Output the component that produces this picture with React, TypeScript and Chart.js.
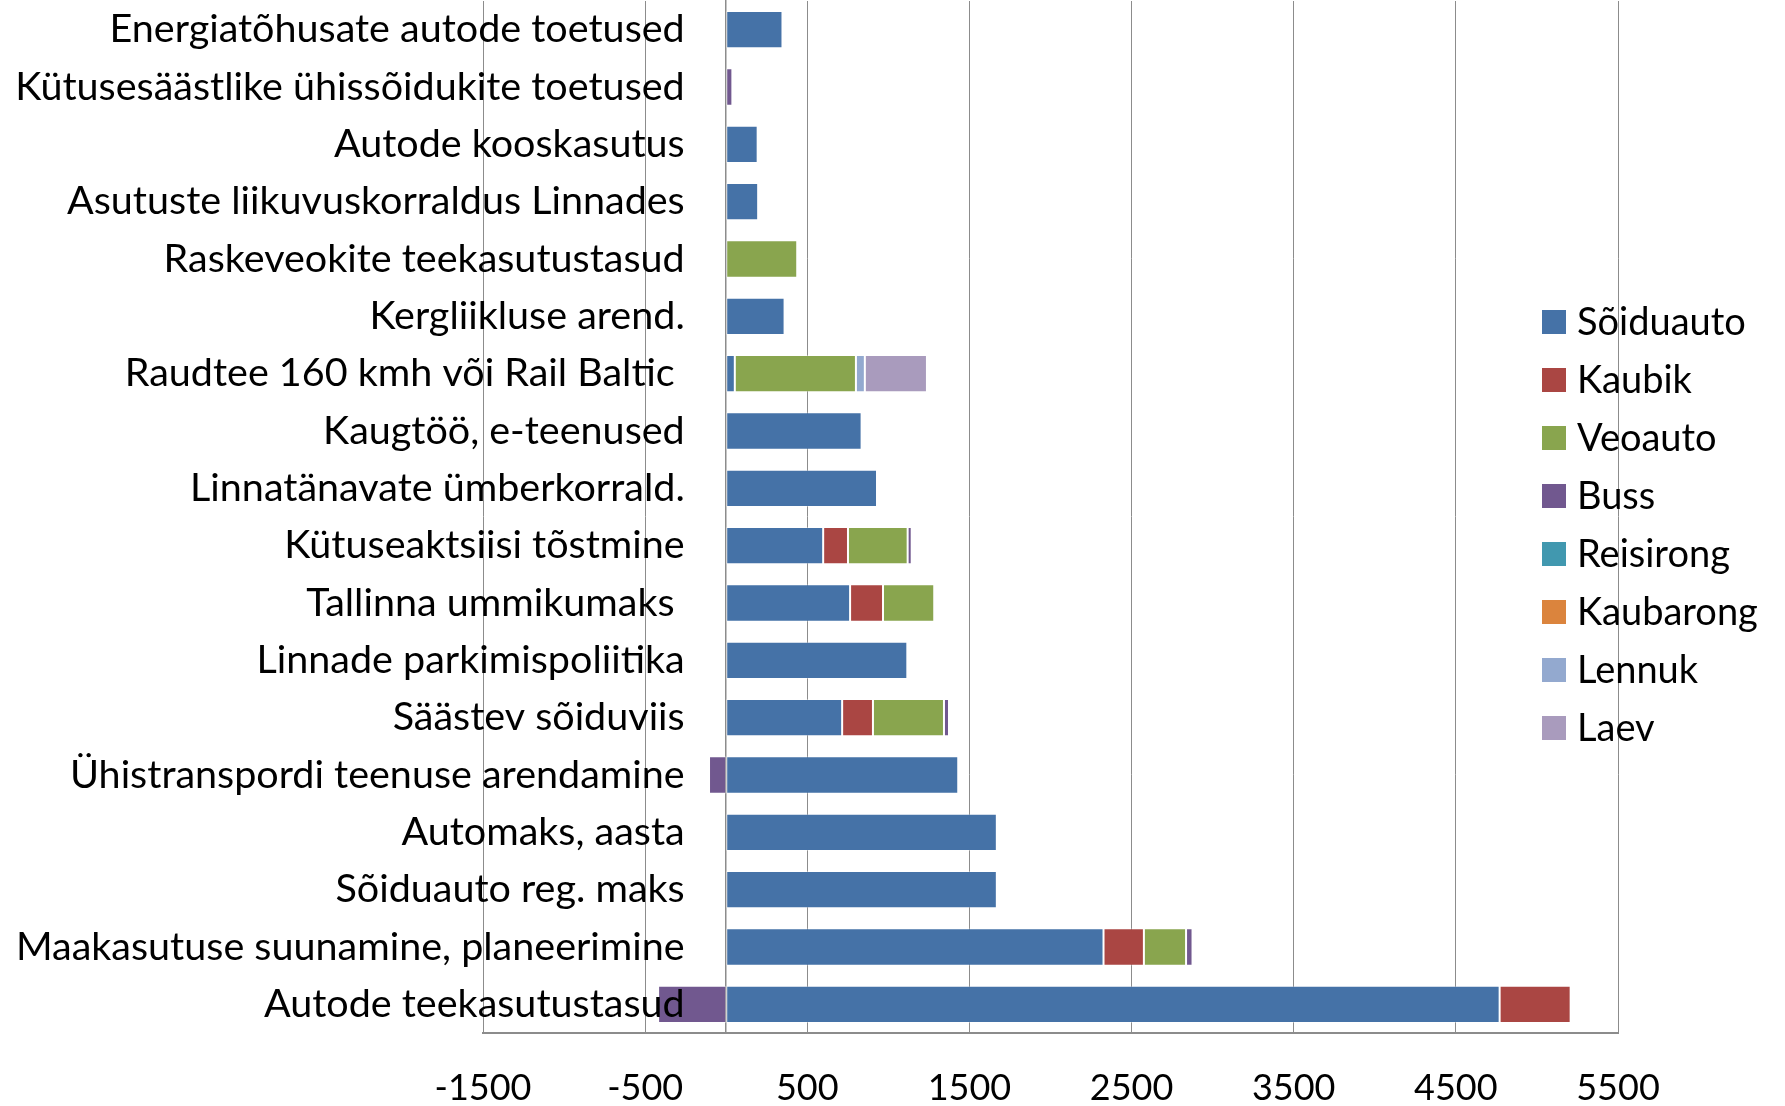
import React, { useEffect, useRef } from "react";
import { Chart, registerables } from "chart.js";

Chart.register(...registerables);

const categories = [
  "Energiatõhusate autode toetused",
  "Kütusesäästlike ühissõidukite toetused",
  "Autode kooskasutus",
  "Asutuste liikuvuskorraldus Linnades",
  "Raskeveokite teekasutustasud",
  "Kergliikluse arend.",
  "Raudtee 160 kmh või Rail Baltic ",
  "Kaugtöö, e-teenused",
  "Linnatänavate ümberkorrald.",
  "Kütuseaktsiisi tõstmine",
  "Tallinna ummikumaks ",
  "Linnade parkimispoliitika",
  "Säästev sõiduviis",
  "Ühistranspordi teenuse arendamine",
  "Automaks, aasta",
  "Sõiduauto reg. maks",
  "Maakasutuse suunamine, planeerimine",
  "Autode teekasutustasud",
];

const soiduauto = [347, 0, 194, 197, 0, 360, 53, 835, 930, 598, 764, 1117, 715, 1431, 1669, 1669, 2327, 4770];
const kaubik = [0, 0, 0, 0, 0, 0, 0, 0, 0, 153, 203, 0, 190, 0, 0, 0, 249, 438];
const veoauto = [0, 0, 0, 0, 438, 0, 747, 0, 0, 368, 316, 0, 438, 0, 0, 0, 260, 0];
const buss = [0, 38, 0, 0, 0, 0, 0, 0, 0, 25, 0, 0, 31, -106, 0, 0, 40, -420];
const reisirong = [0, 0, 0, 0, 0, 0, 0, 0, 0, 0, 0, 0, 0, 0, 0, 0, 0, 0];
const kaubarong = [0, 0, 0, 0, 0, 0, 0, 0, 0, 0, 0, 0, 0, 0, 0, 0, 0, 0];
const lennuk = [0, 0, 0, 0, 0, 0, 55, 0, 0, 0, 0, 0, 0, 0, 0, 0, 0, 0];
const laev = [0, 0, 0, 0, 0, 0, 383, 0, 0, 0, 0, 0, 0, 0, 0, 0, 0, 0];

const seriesNames = ["Sõiduauto", "Kaubik", "Veoauto", "Buss", "Reisirong", "Kaubarong", "Lennuk", "Laev"];
const seriesValues = [soiduauto, kaubik, veoauto, buss, reisirong, kaubarong, lennuk, laev];
const seriesColors = ["#4572A7", "#AA4643", "#89A54E", "#71588F", "#4198AF", "#DB843D", "#93A9CF", "#A99BBD"];

const xTicks = [-1500, -500, 500, 1500, 2500, 3500, 4500, 5500];

const FONT = "Lato, 'DejaVu Sans', sans-serif";

const sideLegend = {
  id: "sideLegend",
  afterDraw(chart: any) {
    const ctx = chart.ctx;
    const boxX = 1542;
    const boxSize = 24;
    const firstY = 322;
    const step = 58;
    ctx.save();
    ctx.font = `38px ${FONT}`;
    ctx.textBaseline = "middle";
    ctx.textAlign = "left";
    chart.data.datasets.forEach((ds: any, i: number) => {
      const cy = firstY + i * step;
      ctx.fillStyle = ds.backgroundColor;
      ctx.fillRect(boxX, cy - boxSize / 2, boxSize, boxSize);
      ctx.fillStyle = "#000";
      ctx.fillText(ds.label, 1577, cy + 1);
    });
    ctx.restore();
  },
};

export default function App() {
  const ref = useRef<HTMLCanvasElement>(null);
  useEffect(() => {
    if (!ref.current) return;
    const chart = new Chart(ref.current, {
      type: "bar",
      data: {
        labels: categories,
        datasets: seriesNames.map((name, i) => ({
          label: name,
          data: seriesValues[i],
          backgroundColor: seriesColors[i],
          borderColor: "rgba(255,255,255,0.35)",
          borderWidth: 1,
          borderSkipped: false,
          barPercentage: 0.65,
          categoryPercentage: 1,
          yAxisID: "y",
        })),
      },
      options: {
        indexAxis: "y",
        responsive: false,
        animation: false,
        layout: { padding: { left: 483, right: 167, top: 1, bottom: 0 } },
        plugins: { legend: { display: false }, tooltip: { enabled: false } },
        scales: {
          x: {
            type: "linear",
            stacked: true,
            min: -1500,
            max: 5500,
            afterBuildTicks: (s: any) => {
              s.ticks = xTicks.map((v) => ({ value: v }));
            },
            afterFit: (s: any) => {
              s.height = 73;
            },
            grid: { color: "#8c8c8c", lineWidth: 1, drawTicks: false },
            border: { display: true, color: "#8c8c8c", width: 2 },
            ticks: {
              font: { family: FONT, size: 36, lineHeight: 1 },
              color: "#000",
              padding: 37,
              autoSkip: false,
              maxRotation: 0,
              callback: (v: any) => String(v),
            },
          },
          y: {
            type: "category",
            stacked: true,
            position: { x: 0 } as any,
            offset: true,
            grid: { display: false, drawTicks: false },
            border: { display: true, color: "#8c8c8c", width: 1.5 },
            ticks: { display: false },
          },
          yl: {
            type: "category",
            axis: "y",
            position: { x: -256 } as any,
            offset: true,
            z: 1,
            grid: { display: false, drawTicks: false },
            border: { display: false },
            ticks: {
              z: 1,
              font: { family: FONT, size: 39.5, lineHeight: 0.01 },
              color: "#000",
              padding: 0,
              autoSkip: false,
            },
          },
        },
      } as any,
      plugins: [sideLegend],
    });
    return () => chart.destroy();
  }, []);
  return (
    <div style={{ position: "fixed", left: 0, top: 0, width: 1785, height: 1106, background: "#fff" }}>
      <canvas ref={ref} width={1785} height={1106} style={{ display: "block" }} />
    </div>
  );
}
